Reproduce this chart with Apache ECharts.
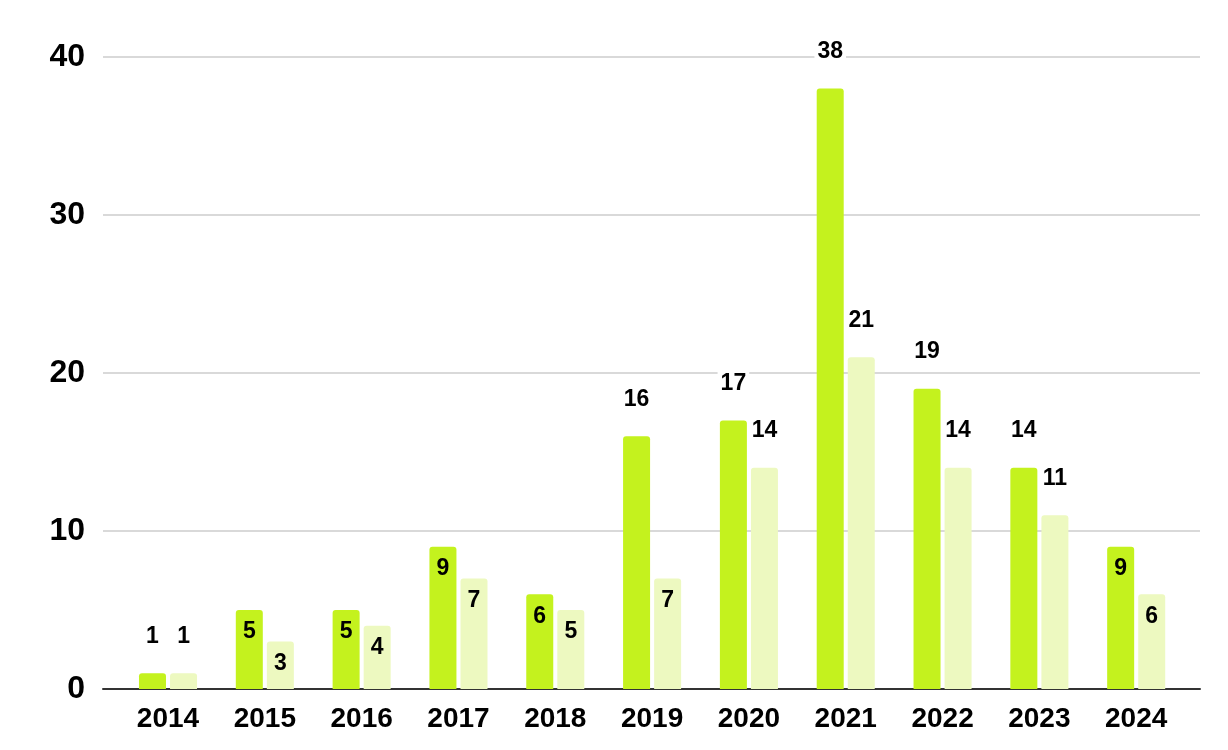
<!DOCTYPE html>
<html>
<head>
<meta charset="utf-8">
<script src="https://cdn.jsdelivr.net/npm/echarts@6/dist/echarts.min.js"></script>
<style>
html,body{margin:0;padding:0;background:#fff;}
#chart{width:1228px;height:750px;}
</style>
</head>
<body>
<div id="chart"></div>
<script>
var categories = ['2014','2015','2016','2017','2018','2019','2020','2021','2022','2023','2024'];
var seriesA = [1,5,5,9,6,16,17,38,19,14,9];
var seriesB = [1,3,4,7,5,7,14,21,14,11,6];
var yTicks = [0,10,20,30,40];

var FONT = '"Liberation Sans", Arial, sans-serif';

function makeData(vals){
  return vals.map(function(v){
    var inside = v >= 2 && v <= 9;
    return {
      value: v,
      label: inside
        ? {position:'insideTop', distance: 10, backgroundColor: 'transparent'}
        : {position:'top', distance: 25, backgroundColor: '#fff'}
    };
  });
}

var labelStyle = {
  show: true,
  color: '#000',
  fontFamily: FONT,
  fontWeight: 'bold',
  fontSize: 23,
  padding: [0, 3],
  lineHeight: 24
};

var chart = echarts.init(document.getElementById('chart'));
chart.setOption({
  animation: false,
  grid: [
    {left: 103, right: 28, top: 57, bottom: 61},
    {left: 119.6, right: 43.4, top: 57, bottom: 61}
  ],
  xAxis: [
    {gridIndex:0, type:'category', data:categories,
     axisLine:{lineStyle:{color:'#333', width:2}}, axisTick:{show:false}, axisLabel:{show:false}, splitLine:{show:false}},
    {gridIndex:1, type:'category', data:categories,
     axisLine:{show:false}, axisTick:{show:false},
     axisLabel:{color:'#000', fontFamily:FONT, fontWeight:'bold', fontSize:28, margin:16}}
  ],
  yAxis: [
    {gridIndex:0, type:'value', min:0, max:40, interval:10,
     axisLine:{show:false}, axisTick:{show:false},
     axisLabel:{color:'#000', fontFamily:FONT, fontWeight:'bold', fontSize:32, margin:18,
       formatter:function(v){ return yTicks.indexOf(v) >= 0 ? String(v) : ''; }},
     splitLine:{lineStyle:{color:'#cccccc', width:1.5}}},
    {gridIndex:1, type:'value', min:0, max:40, interval:10, show:false, splitLine:{show:false}}
  ],
  series: [
    {type:'bar', xAxisIndex:1, yAxisIndex:1, data:makeData(seriesA), barWidth:27, barGap:'15%',
     itemStyle:{color:'#c4f21e', borderRadius:[3,3,0,0]}, label:labelStyle, z:3},
    {type:'bar', xAxisIndex:1, yAxisIndex:1, data:makeData(seriesB), barWidth:27, barGap:'15%',
     itemStyle:{color:'#edf9c0', borderRadius:[3,3,0,0]}, label:labelStyle, z:3}
  ]
});
</script>
</body>
</html>
